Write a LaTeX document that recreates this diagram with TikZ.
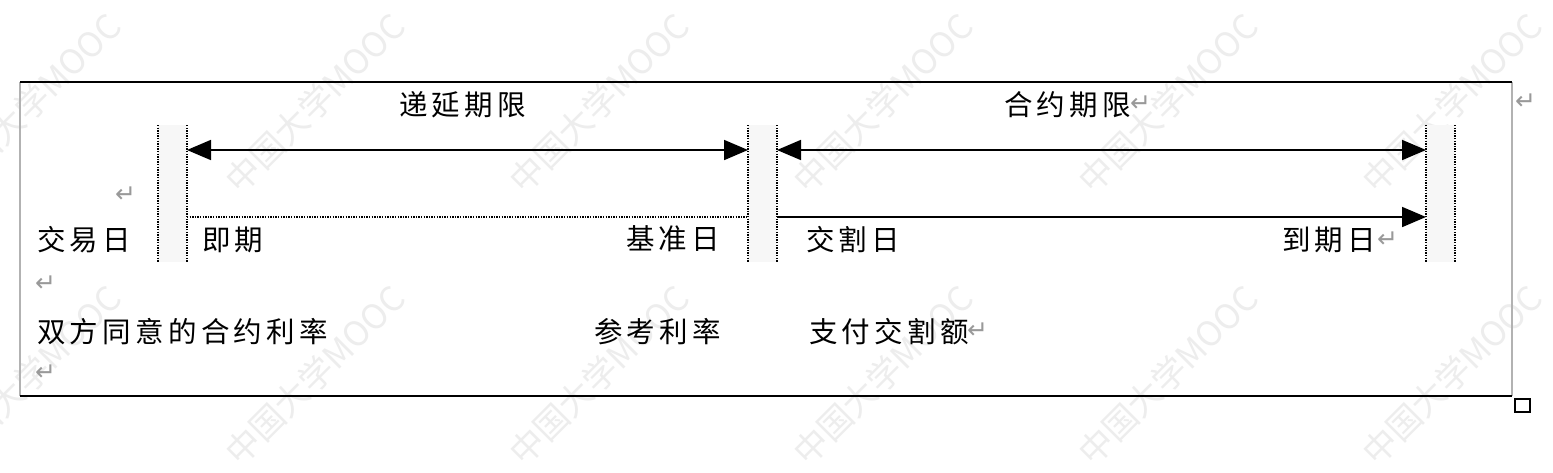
\documentclass[tikz,border=0pt]{standalone}
\usepackage{fontspec}
\usetikzlibrary{arrows.meta}
\newfontfamily\cjk[LetterSpace=15]{Noto Sans CJK SC}
\newfontfamily\wm{Noto Sans CJK SC}
\newfontfamily\sym{DejaVu Sans}
\begin{document}
\begin{tikzpicture}[x=1pt,y=-1pt,
  lbl/.style={inner sep=0pt, anchor=west, font=\cjk\fontsize{28.5}{28.5}\selectfont},
  ret/.style={inner sep=0pt, anchor=west, text=gray!80, font=\sym\fontsize{25}{25}\selectfont},
  vdot/.style={line width=1.3pt, dash pattern=on 1.3pt off 1.3pt},
  hdot/.style={line width=1.3pt, dash pattern=on 1.3pt off 1.3pt},
  span/.style={line width=1.8pt, {Triangle[length=24pt,width=20pt]}-{Triangle[length=24pt,width=20pt]}},
  fwd/.style={line width=1.8pt, -{Triangle[length=24pt,width=20pt]}},
  gap/.style={fill=black!3, draw=none},
  wmark/.style={text=black!7, rotate=45, font=\wm\fontsize{34}{34}\selectfont, inner sep=0pt}]
\useasboundingbox (0,0) rectangle (1553,472);
\fill[white] (0,0) rectangle (1553,472);
% watermarks
\foreach \cx [count=\i] in {31,315,599,883,1168,1452}{
  \node[wmark] (wa\i) at (\cx,103) {中国大学MOOC};
  \node[wmark] (wb\i) at (\cx,375) {中国大学MOOC};
}
% shaded gaps between dotted pairs
\fill[gap] (158,125) rectangle (187,262);
\fill[gap] (748,125) rectangle (777,262);
\fill[gap] (1426,125) rectangle (1455,262);
% table borders
\draw[line width=1.2pt, black!30] (20,82) -- (20,396);
\draw[line width=1.2pt, black!30] (1512,82) -- (1512,396);
\draw[line width=1.8pt] (20,82) -- (1512,82);
\draw[line width=1.8pt] (20,396) -- (1512,396);
\node[draw, line width=1.5pt, minimum width=15pt, minimum height=13pt, inner sep=0pt, anchor=north west] (handle) at (1514,398) {};
% dotted verticals
\foreach \n/\xx in {a1/158,a2/187,b1/748,b2/777,c1/1426,c2/1455}{
  \coordinate (\n t) at (\xx,125);
  \coordinate (\n b) at (\xx,262);
  \coordinate (\n u) at (\xx,150);
  \coordinate (\n l) at (\xx,217);
  \draw[vdot] (\n t) -- (\n b);
}
% arrows
\draw[span] (a2u) -- (b1u);
\draw[span] (b2u) -- (c1u);
\draw[hdot] (a2l) -- (b1l);
\draw[fwd] (b2l) -- (c1l);
% labels
\node[lbl] (yanqi) at (399,105) {递延期限};
\node[lbl] (heyue) at (1004,105) {合约期限};
\node[ret] (r1) at (1130,104) {↵};
\node[ret] (r0) at (1515,102) {↵};
\node[ret] (r2) at (115,195) {↵};
\node[lbl] (jyr) at (37,240) {交易日};
\node[lbl] (jq) at (202,240) {即期};
\node[lbl] (jzr) at (626,239) {基准日};
\node[lbl] (jgr) at (806,240) {交割日};
\node[lbl] (dqr) at (1282,240) {到期日};
\node[ret] (r3) at (1377,240) {↵};
\node[ret] (r4) at (35,284) {↵};
\node[lbl] (sfty) at (37,332) {双方同意的合约利率};
\node[lbl] (ckll) at (594,332) {参考利率};
\node[lbl] (zfjge) at (809,332) {支付交割额};
\node[ret] (r5) at (967,331) {↵};
\node[ret] (r6) at (35,373) {↵};
\end{tikzpicture}
\end{document}
